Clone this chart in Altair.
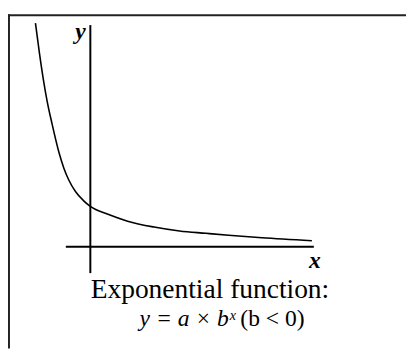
import altair as alt
import pandas as pd

# curve points (data units; origin where the axes cross)
curve_x = [-1.4, -1.3, -1.2, -1.1, -0.975, -0.8, -0.675, -0.55, -0.375, -0.175, 0.0,
           0.45, 0.95, 1.625, 2.275, 2.95, 3.525, 4.375, 5.65]
curve_y = [5.7, 4.95, 4.275, 3.7, 3.125, 2.4, 2.0, 1.7, 1.4, 1.175, 1.025,
           0.825, 0.65, 0.5, 0.4, 0.34, 0.29, 0.225, 0.15]

# axis segments (data units)
xaxis_from, xaxis_to = -0.625, 5.7
yaxis_from, yaxis_to = -0.675, 5.65

caption_line1 = "Exponential function:"
caption_italic = "y = a × bˣ"
caption_plain = "(b < 0)"

W, H = 406, 344
xs = alt.Scale(domain=[-2.1, 8.05], nice=False, zero=False)
ys = alt.Scale(domain=[-2.6, 6.0], nice=False, zero=False)

curve_df = pd.DataFrame({"x": curve_x, "y": curve_y})
axes_df = pd.DataFrame({
    "x": [xaxis_from, 0.0], "x2": [xaxis_to, 0.0],
    "y": [0.0, yaxis_from], "y2": [0.0, yaxis_to],
})
one = pd.DataFrame({"a": [0]})

curve = alt.Chart(curve_df).mark_line(color="black", strokeWidth=1.6, interpolate="monotone").encode(
    x=alt.X("x:Q", scale=xs, axis=None),
    y=alt.Y("y:Q", scale=ys, axis=None),
)

axes = alt.Chart(axes_df).mark_rule(color="black", strokeWidth=2).encode(
    x=alt.X("x:Q", scale=xs, axis=None), x2="x2:Q",
    y=alt.Y("y:Q", scale=ys, axis=None), y2="y2:Q",
)

border_left = alt.Chart(one).mark_rule(color="#222", strokeWidth=2).encode(
    x=alt.value(1), y=alt.value(3), y2=alt.value(H)
)
border_top = alt.Chart(one).mark_rule(color="#222", strokeWidth=2).encode(
    x=alt.value(0), x2=alt.value(W), y=alt.value(4)
)

serif = "Liberation Serif"
ylab = alt.Chart(one).mark_text(text="y", font=serif, fontSize=24, fontStyle="italic",
                                fontWeight="bold", align="center", baseline="alphabetic").encode(
    x=alt.value(74), y=alt.value(28))
xlab = alt.Chart(one).mark_text(text="x", font=serif, fontSize=24, fontStyle="italic",
                                fontWeight="bold", align="center", baseline="alphabetic").encode(
    x=alt.value(313), y=alt.value(262))
cap1 = alt.Chart(one).mark_text(text=caption_line1, font=serif, fontSize=28,
                                align="center", baseline="alphabetic").encode(
    x=alt.value(206), y=alt.value(292))
cap2a = alt.Chart(one).mark_text(text=caption_italic, font=serif, fontSize=24, fontStyle="italic",
                                 align="right", baseline="alphabetic").encode(
    x=alt.value(232), y=alt.value(321))
cap2b = alt.Chart(one).mark_text(text=caption_plain, font=serif, fontSize=24,
                                 align="left", baseline="alphabetic").encode(
    x=alt.value(237), y=alt.value(321))

chart = alt.layer(border_left, border_top, axes, curve, ylab, xlab, cap1, cap2a, cap2b).properties(
    width=W, height=H, autosize=alt.AutoSizeParams(type="none"), padding=0
).configure_view(stroke=None)

chart.save("out.html", embed_options={"renderer": "svg", "actions": False})
